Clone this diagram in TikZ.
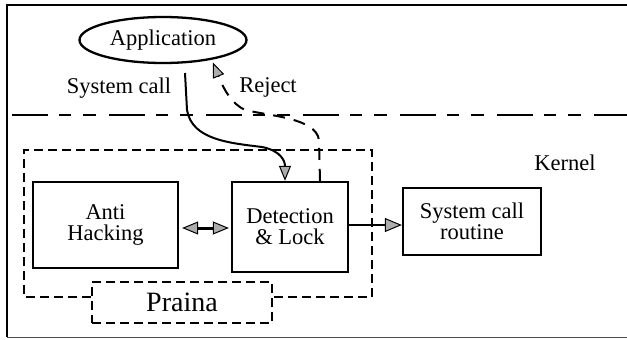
\documentclass[tikz,border=0pt]{standalone}
\usepackage{fontspec}
\setmainfont{Liberation Serif}
\usetikzlibrary{arrows.meta,shapes.geometric}
\begin{document}
\begin{tikzpicture}[x=1pt,y=-1pt,
  box/.style={draw,line width=2.3pt,inner sep=0pt,align=center,font=\fontsize{22.5}{21}\selectfont},
  lbl/.style={inner sep=0pt,font=\fontsize{22.5}{24}\selectfont},
  gtip/.style={-{Triangle[length=15pt,width=12pt,fill=gray!65,line width=1pt]}},
  conn/.style={line width=2pt},
  cdash/.style={line width=2pt,dash pattern=on 9pt off 5pt},
  kdash/.style={line width=2.2pt,dash pattern=on 36pt off 11pt on 12pt off 12pt on 13pt off 13pt}]
\useasboundingbox (0,0) rectangle (627,340);
% outer frame (open on the right)
\draw[line width=2.2pt] (627,5) -- (7,5);
\draw[line width=1.6pt] (7,4) -- (7,337);
\draw[line width=1pt,black!70] (7,337) -- (627,337);
% nodes
\node[ellipse,draw,line width=2.3pt,inner sep=0pt,minimum width=167pt,minimum height=46pt,
      font=\fontsize{22.5}{24}\selectfont] (App) at (163,40) {Application};
\node[box,minimum width=145pt,minimum height=86pt] (AH) at (105.5,225) {Anti\\Hacking};
\node[box,minimum width=116pt,minimum height=90pt] (Det) at (290,227) {Detection\\\& Lock};
\node[box,minimum width=138pt,minimum height=67pt] (SCR) at (472,221.5) {System call\\routine};
\node[draw,dash pattern=on 9pt off 5pt,line width=2pt,inner sep=0pt,minimum width=180pt,minimum height=41pt,
      font=\fontsize{28}{30}\selectfont] (Pr) at (182,302.5) {Praina};
\node[lbl] (lsc) at (119,88) {System call};
\node[lbl] (lrj) at (268,87) {Reject};
\node[lbl] (lk) at (565,163) {Kernel};
% kernel boundary
\coordinate (k1) at (12,115);
\coordinate (k2) at (627,115);
\draw[kdash] (k1) -- (k2);
% Praina container
\coordinate (ctl) at (24,150);
\coordinate (cbr) at (372,297);
\draw[cdash] (Pr.west |- cbr) -- (ctl |- cbr) -- (ctl) -- (ctl -| cbr) -- (cbr) -- (Pr.east |- cbr);
% system call
\coordinate (scs) at (185,73);
\draw[conn,gtip] (scs) -- (187,110) .. controls (192,140) and (230,143) .. (262,147)
   .. controls (282,151) and (285,162) .. ([xshift=-5pt]Det.north);
% reject
\draw[conn,gtip,dash pattern=on 12pt off 9pt,shorten >=3pt] ([xshift=30pt]Det.north) -- (319,140)
   .. controls (316,118) and (270,116) .. (245,110) .. controls (232,104) and (224,90) .. (App.338);
% double arrow
\draw[line width=3pt,{Triangle[length=16pt,width=13pt,fill=gray!65,line width=1pt]}-{Triangle[length=16pt,width=13pt,fill=gray!65,line width=1pt]},shorten <=3pt,shorten >=2pt]
   ([yshift=-3pt]AH.east) -- ([yshift=-3pt]AH.east -| Det.west);
% to system call routine
\draw[conn,-{Triangle[length=17pt,width=14pt,fill=gray!65,line width=1pt]}]
   ([yshift=-3.5pt]SCR.west -| Det.east) -- ([yshift=-3.5pt]SCR.west);
\end{tikzpicture}
\end{document}
